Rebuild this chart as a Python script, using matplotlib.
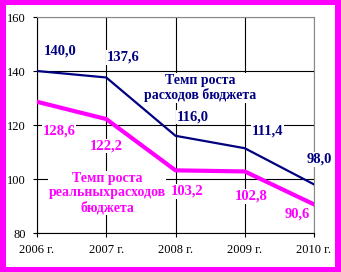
import matplotlib.pyplot as plt
from matplotlib.patches import Rectangle

# data ------------------------------------------------------------------------
years = ["2006 г.", "2007 г.", "2008 г.", "2009 г.", "2010 г."]
nominal = [140.0, 137.6, 116.0, 111.4, 98.0]
real = [128.6, 122.2, 103.2, 102.8, 90.6]

# label offsets in pixels from each point
nominal_off = [(23, 20), (17, 20), (17, 19), (23, 17), (5, 25)]
real_off = [(22, -29), (0, -27), (12, -21), (6, -25), (-17, -10)]

navy = "#000080"
pink = "#FF00FF"

plt.rcParams["font.family"] = ["Liberation Serif", "DejaVu Serif"]

fig = plt.figure(figsize=(3.41, 2.72), dpi=100, facecolor=pink)
# white inner area, magenta frame
fig.add_artist(Rectangle((6/341, 5/272), 329/341, 262/272,
                         transform=fig.transFigure, facecolor="white",
                         edgecolor="none", zorder=0))

ax = fig.add_axes([37/341, 1-233/272, 277/341, 216/272])
ax.set_facecolor("white")
x = range(len(years))

ax.plot(x, nominal, color=navy, lw=1.6, zorder=3)
ax.plot(x, real, color=pink, lw=3.0, zorder=3)

ax.set_xlim(0, 4)
ax.set_ylim(80, 160)
ax.set_xticks(list(x))
ax.set_xticklabels(years)
ax.set_yticks([80, 100, 120, 140, 160])
ax.tick_params(labelsize=9, length=3, width=0.8, color="black", pad=5)
ax.grid(True, color="black", lw=0.8)
for s in ["left", "bottom"]:
    ax.spines[s].set_color("black")
    ax.spines[s].set_linewidth(0.8)
for s in ["top", "right"]:
    ax.spines[s].set_color("#888888")
    ax.spines[s].set_linewidth(0.8)

box = dict(facecolor="white", edgecolor="none", pad=0.5)

def fmt(v):
    return ("%.1f" % v).replace(".", ",")

for i, v in enumerate(nominal):
    ax.annotate(fmt(v), (i, v), xytext=nominal_off[i], textcoords="offset pixels",
                ha="center", va="center", color=navy, fontsize=10.5,
                fontweight="bold", bbox=box, zorder=4, annotation_clip=False)
for i, v in enumerate(real):
    ax.annotate(fmt(v), (i, v), xytext=real_off[i], textcoords="offset pixels",
                ha="center", va="center", color=pink, fontsize=10.5,
                fontweight="bold", bbox=box, zorder=4, annotation_clip=False)

ax.text(0.588, 0.671, "Темп роста\nрасходов бюджета", transform=ax.transAxes,
        ha="center", va="center", color=navy, fontsize=10, fontweight="bold",
        linespacing=1.15, bbox=box, zorder=4)
ax.text(0.253, 0.185, "Темп роста\nреальныхрасходов\nбюджета",
        transform=ax.transAxes, ha="center", va="center", color=pink,
        fontsize=10, fontweight="bold", linespacing=1.15, bbox=box, zorder=4)

fig.savefig("out.png", dpi=100, facecolor=pink)
